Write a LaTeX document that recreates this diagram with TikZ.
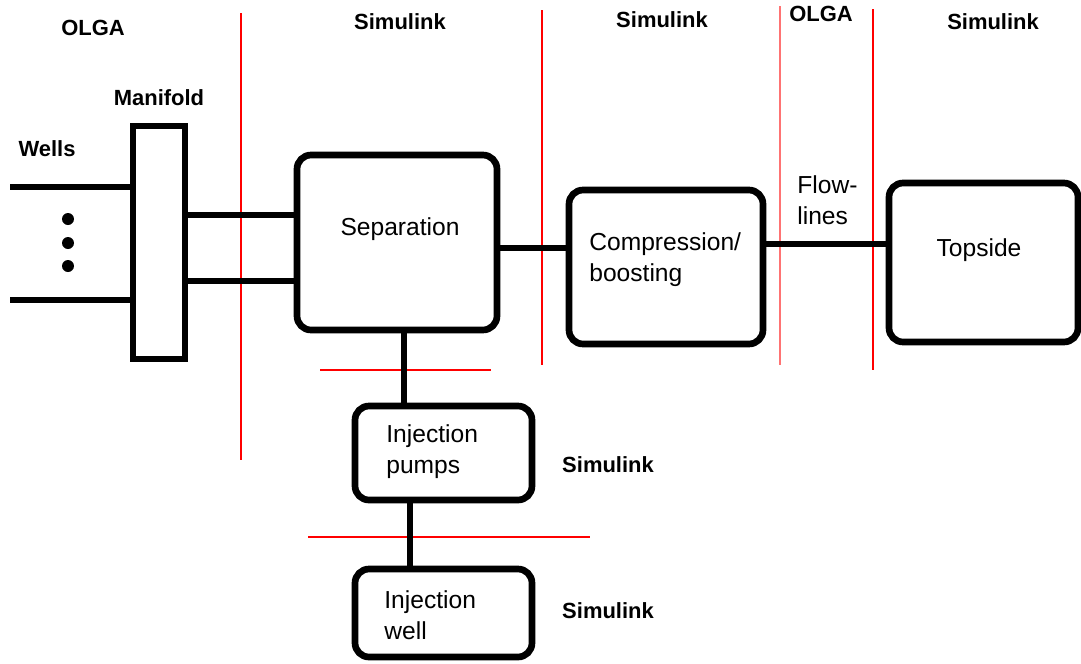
\documentclass[tikz,border=0pt]{standalone}
\usepackage{fontspec}
\setmainfont{Liberation Sans}
\usetikzlibrary{positioning}

\begin{document}
\begin{tikzpicture}[x=0.02cm, y=-0.02cm,
      blk/.style={draw, line width=3.8pt, rounded corners=0.28cm, inner sep=0pt},
      pipe/.style={draw, line width=3.4pt},
      divider/.style={draw, red, line width=1pt},
      hdr/.style={font=\fontsize{12.5}{15}\selectfont\bfseries, inner sep=0pt},
      lbl/.style={font=\fontsize{14}{17.6}\selectfont, inner sep=0pt, align=left}]

    % picture frame (pixel grid of the original)
    \useasboundingbox (0,0) rectangle (1081,663);

    % --- Simulator regions: red dividers ---
    \draw[divider] (241,13) -- (241,460);
    \draw[divider] (542,10) -- (542,365);
    \draw[divider, red!55] (780,6) -- (780,365);
    \draw[divider] (873,9) -- (873,370);
    \draw[divider] (320,370) -- (491,370);
    \draw[divider] (308,537) -- (590,537);

    % --- Headers ---
    \node[hdr] (olgaA) at (93,28)  {OLGA};
    \node[hdr] (simA)  at (400,22) {Simulink};
    \node[hdr] (simB)  at (662,20) {Simulink};
    \node[hdr] (olgaB) at (821,14) {OLGA};
    \node[hdr] (simC)  at (993,22) {Simulink};
    \node[hdr] (simD)  at (608,465) {Simulink};
    \node[hdr] (simE)  at (608,611) {Simulink};

    % --- Boxes ---
    \node[blk, rounded corners=0pt, minimum width=1.04cm, minimum height=4.66cm]
        (manifold) at (159,242.5) {};
    \node[hdr, above=0.34cm of manifold] (maniflbl) {Manifold};
    \node[blk, minimum width=4cm, minimum height=3.5cm] (sep) at (397,242.5) {};
    \node[blk, minimum width=3.88cm, minimum height=3.08cm] (comp) at (666,267) {};
    \node[blk, minimum width=3.78cm, minimum height=3.18cm] (topside) at (983.5,262.5) {};
    \node[blk, minimum width=3.54cm, minimum height=1.88cm] (pumps) at (443.5,453) {};
    \node[blk, minimum width=3.54cm, minimum height=1.76cm] (injwell) at (443.5,613) {};

    % --- Box texts ---
    \node[lbl] (septxt) at (400,229) {Separation};
    \node[lbl, anchor=west] (comptxt) at (589,260) {Compression/\\boosting};
    \node[lbl] (toptxt) at (979,250) {Topside};
    \node[lbl, anchor=west] (flowtxt) at (797,200) {Flow-\\lines};
    \node[lbl, anchor=west] (pumptxt) at (386,452) {Injection\\pumps};
    \node[lbl, anchor=west] (welltxt) at (384,615) {Injection\\well};

    % --- Wells ---
    \node[hdr] (wellslbl) at (47,149) {Wells};
    \coordinate (w1) at (10,187);
    \coordinate (w2) at (10,300);
    \draw[pipe] (w1) -- (w1 -| manifold.west);
    \draw[pipe] (w2) -- (w2 -| manifold.west);
    \foreach \yy [count=\i] in {219,243,266}
        \node[circle, fill, inner sep=0pt, minimum size=0.24cm] (dot\i) at (68,\yy) {};

    % --- Flow connections ---
    \draw[pipe] ([yshift=0.55cm]manifold.east) -- ([yshift=0.55cm]manifold.east -| sep.west);
    \draw[pipe] ([yshift=-0.77cm]manifold.east) -- ([yshift=-0.77cm]manifold.east -| sep.west);
    \draw[pipe] ([yshift=-0.11cm]sep.east) -- ([yshift=-0.11cm]sep.east -| comp.west);
    \draw[pipe] ([yshift=0.46cm]comp.east) -- ([yshift=0.46cm]comp.east -| topside.west);
    \draw[pipe] ([xshift=0.14cm]sep.south) -- ([xshift=0.14cm]sep.south |- pumps.north);
    \draw[pipe] ([xshift=-0.67cm]pumps.south) -- ([xshift=-0.67cm]pumps.south |- injwell.north);

\end{tikzpicture}
\end{document}
